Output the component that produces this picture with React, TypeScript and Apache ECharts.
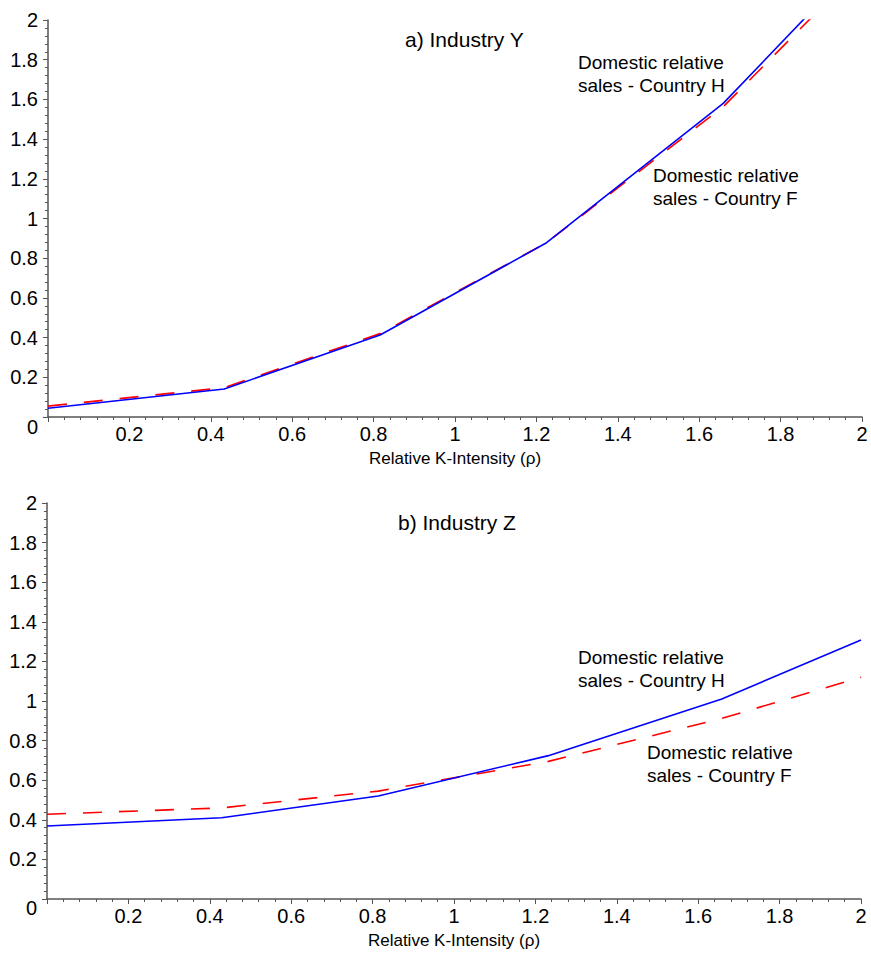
import React, { useEffect, useRef } from "react";
import * as echarts from "echarts";

// ---- data ----
const rhoTop = [0, 0.433, 0.816, 1.225, 1.659, 2.0];
const industryY_H = [0.044, 0.141, 0.413, 0.878, 1.58, 2.31];
const industryY_F = [0.055, 0.148, 0.42, 0.878, 1.563, 2.27];

const rhoBottom = [0, 0.429, 0.814, 1.232, 1.658, 2.0];
const industryZ_H = [0.369, 0.41, 0.52, 0.724, 1.01, 1.308];
const industryZ_F = [0.428, 0.46, 0.545, 0.695, 0.912, 1.12];

const panelTitles = ["a) Industry Y", "b) Industry Z"];
const labelH = "Domestic relative\nsales - Country H";
const labelF = "Domestic relative\nsales - Country F";
const xAxisName = "Relative K-Intensity (\u03c1)";

const FONT = '"Liberation Sans", Arial, Helvetica, sans-serif';
const AXIS_COLOR = "#555";

function pairs(xs: number[], ys: number[]) {
  return xs.map((x, i) => [x, ys[i]]);
}

function makeX(gridIndex: number) {
  return {
    type: "value",
    gridIndex,
    min: 0,
    max: 2,
    interval: 0.2,
    name: xAxisName,
    nameLocation: "middle",
    nameGap: 33,
    nameTextStyle: { fontFamily: FONT, fontSize: 17, color: "#000" },
    axisLine: { show: true, onZero: false, lineStyle: { color: AXIS_COLOR, width: 1.5 } },
    axisTick: { show: true, length: 5, lineStyle: { color: AXIS_COLOR, width: 1 } },
    minorTick: { show: true, splitNumber: 5, length: 3, lineStyle: { color: AXIS_COLOR, width: 1 } },
    splitLine: { show: false },
    minorSplitLine: { show: false },
    axisLabel: {
      showMinLabel: false,
      margin: 7,
      fontFamily: FONT,
      fontSize: 20,
      color: "#000",
      formatter: (v: number) => String(Math.round(v * 10) / 10),
    },
  };
}

function makeY(gridIndex: number) {
  return {
    type: "value",
    gridIndex,
    min: 0,
    max: 2,
    interval: 0.2,
    axisLine: { show: true, onZero: false, lineStyle: { color: AXIS_COLOR, width: 1.5 } },
    axisTick: { show: true, length: 5, lineStyle: { color: AXIS_COLOR, width: 1 } },
    minorTick: { show: true, splitNumber: 5, length: 3, lineStyle: { color: AXIS_COLOR, width: 1 } },
    splitLine: { show: false },
    minorSplitLine: { show: false },
    axisLabel: {
      showMinLabel: false,
      margin: 10,
      fontFamily: FONT,
      fontSize: 20,
      color: "#000",
      formatter: (v: number) => String(Math.round(v * 10) / 10),
    },
  };
}

function lineSeries(xi: number, data: number[][], color: string, dashed: boolean) {
  return {
    type: "line",
    xAxisIndex: xi,
    yAxisIndex: xi,
    data,
    showSymbol: false,
    symbol: "none",
    clip: true,
    lineStyle: { color, width: 1.6, type: dashed ? [19, 17] : "solid" },
    z: dashed ? 2 : 3,
  };
}

function textEl(text: string, x: number, y: number, size: number, align = "left", vAlign = "top") {
  return {
    type: "text",
    x,
    y,
    z: 10,
    style: {
      text,
      font: `${size}px ${FONT}`,
      fill: "#000",
      lineHeight: 23,
      align,
      verticalAlign: vAlign,
    },
  };
}

export default function App() {
  const ref = useRef<HTMLDivElement>(null);
  useEffect(() => {
    if (!ref.current) return;
    const chart = echarts.init(ref.current, null, { renderer: "svg" });
    chart.setOption({
      animation: false,
      backgroundColor: "#fff",
      grid: [
        { left: 48, right: 9, top: 20, height: 397 },
        { left: 47, right: 10, top: 503, height: 396 },
      ],
      xAxis: [makeX(0), makeX(1)],
      yAxis: [makeY(0), makeY(1)],
      series: [
        lineSeries(0, pairs(rhoTop, industryY_F), "#ff0000", true),
        lineSeries(0, pairs(rhoTop, industryY_H), "#0000ff", false),
        lineSeries(1, pairs(rhoBottom, industryZ_F), "#ff0000", true),
        lineSeries(1, pairs(rhoBottom, industryZ_H), "#0000ff", false),
      ],
      graphic: [
        textEl(panelTitles[0], 405, 39, 21, "left", "middle"),
        textEl(panelTitles[1], 398, 522, 21, "left", "middle"),
        textEl(labelH, 578, 50.5, 19),
        textEl(labelF, 653, 163.5, 19),
        textEl(labelH, 578, 645.5, 19),
        textEl(labelF, 647, 740.5, 19),
        textEl("0", 38, 427, 20, "right", "middle"),
        textEl("0", 37, 908, 20, "right", "middle"),
      ],
    });
    return () => chart.dispose();
  }, []);
  return (
    <div
      ref={ref}
      style={{ position: "absolute", left: 0, top: 0, width: 871, height: 953 }}
    />
  );
}
